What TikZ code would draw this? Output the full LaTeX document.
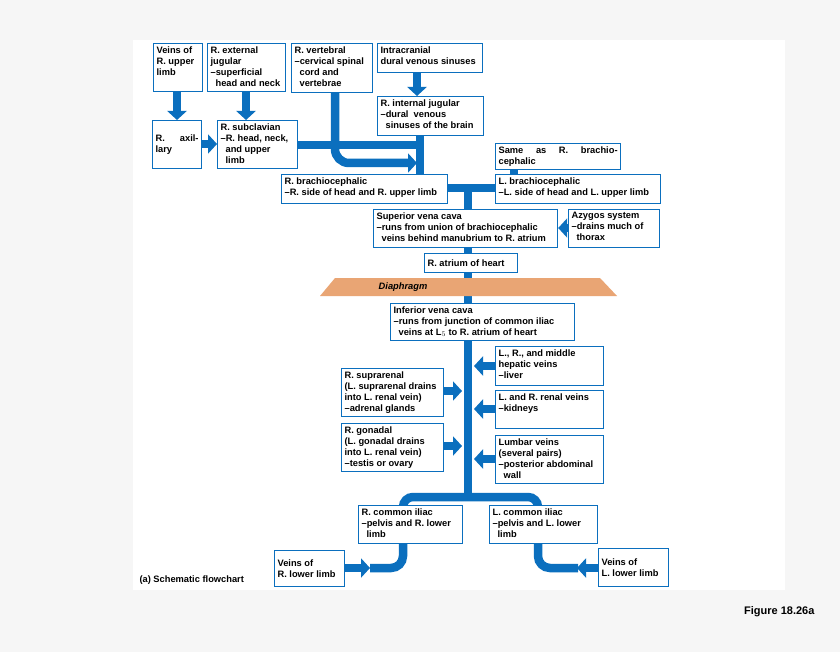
\documentclass[tikz,border=0pt]{standalone}
\usepackage{fontspec}
\setmainfont{Liberation Sans}
\usetikzlibrary{positioning,calc,arrows.meta,backgrounds}
\definecolor{veinblue}{HTML}{0B6FBE}
\definecolor{diaph}{HTML}{E9A574}
\tikzset{
  box/.style={draw=veinblue, line width=1.2pt, fill=white, anchor=north west, align=left,
    inner xsep=3pt, inner ysep=2pt, font=\bfseries\fontsize{9.3}{11}\selectfont},
  vein/.style={draw=veinblue, line width=8.5pt},
  flow/.style={vein, -{Triangle[width=19pt,length=9pt]}}
}
\newcommand{\ind}{\hspace*{5pt}}
\begin{document}
\begin{tikzpicture}[x=1pt,y=-1pt]
        \node (upper) [box, minimum width=49pt, minimum height=48pt] at (153,43) {\parbox[t][42pt]{43pt}{Veins of\\R. upper\\limb}};
        \node (extjug) [box, minimum width=78pt, minimum height=48pt] at (207,43) {\parbox[t][42pt]{72pt}{R. external\\jugular\\–superficial\\\ind head and neck}};
        \node (vert) [box, minimum width=81pt, minimum height=49pt] at (291,43) {\parbox[t][43pt]{75pt}{R. vertebral\\–cervical spinal\\\ind cord and\\\ind vertebrae}};
        \node (intracr) [box, minimum width=105pt, minimum height=29pt] at (377,43) {\parbox[t][23pt]{99pt}{Intracranial\\dural venous sinuses}};
        \node (intjug) [box, minimum width=106pt, minimum height=39pt] at (377,96) {\parbox[t][33pt]{100pt}{R. internal jugular\\–dural\ \ venous\\\ind sinuses of the brain}};
        \node (axil) [box, minimum width=49pt, minimum height=48pt] at (152,120) {\parbox[c][42pt]{43pt}{R. axillary}};
        \node (subcl) [box, minimum width=80pt, minimum height=48pt] at (217,120) {\parbox[t][42pt]{74pt}{R. subclavian\\–R. head, neck,\\\ind and upper\\\ind limb}};
        \node (same) [box, minimum width=125pt, minimum height=26pt] at (495,143) {\parbox[c][20pt]{119pt}{Same as R. brachiocephalic}};
        \node (brR) [box, minimum width=166pt, minimum height=29pt] at (281,174) {\parbox[t][23pt]{160pt}{R. brachiocephalic\\–R. side of head and R. upper limb}};
        \node (brL) [box, minimum width=165pt, minimum height=29pt] at (495,174) {\parbox[t][23pt]{159pt}{L. brachiocephalic\\–L. side of head and L. upper limb}};
        \node (svc) [box, minimum width=184pt, minimum height=38pt] at (373,209) {\parbox[t][32pt]{178pt}{Superior vena cava\\–runs from union of brachiocephalic\\\ind veins behind manubrium to R. atrium}};
        \node (azyg) [box, minimum width=91pt, minimum height=38pt] at (568,209) {\parbox[t][32pt]{85pt}{Azygos system\\–drains much of\\\ind thorax}};
        \node (atrium) [box, minimum width=93pt, minimum height=19pt] at (424,253) {\parbox[c][13pt]{87pt}{R. atrium of heart}};

        \node (ivc) [box, minimum width=184pt, minimum height=37pt] at (390,303) {\parbox[t][31pt]{178pt}{Inferior vena cava\\–runs from junction of common iliac\\\ind veins at L$_5$ to R. atrium of heart}};
        \node (hepat) [box, minimum width=108pt, minimum height=39pt] at (495,346) {\parbox[t][33pt]{102pt}{L., R., and middle\\hepatic veins\\–liver}};
        \node (supra) [box, minimum width=102pt, minimum height=48pt] at (341,368) {\parbox[t][42pt]{96pt}{R. suprarenal\\(L. suprarenal drains\\into L. renal vein)\\–adrenal glands}};
        \node (renal) [box, minimum width=108pt, minimum height=38pt] at (495,390) {\parbox[t][32pt]{102pt}{L. and R. renal veins\\–kidneys}};
        \node (gonad) [box, minimum width=102pt, minimum height=48pt] at (341,423) {\parbox[t][42pt]{96pt}{R. gonadal\\(L. gonadal drains\\into L. renal vein)\\–testis or ovary}};
        \node (lumbar) [box, minimum width=108pt, minimum height=48pt] at (495,435) {\parbox[t][42pt]{102pt}{Lumbar veins\\(several pairs)\\–posterior abdominal\\\ind wall}};
        \node (iliacR) [box, minimum width=104pt, minimum height=38pt] at (358,505) {\parbox[t][32pt]{98pt}{R. common iliac\\–pelvis and R. lower\\\ind limb}};
        \node (iliacL) [box, minimum width=108pt, minimum height=38pt] at (489,505) {\parbox[t][32pt]{102pt}{L. common iliac\\–pelvis and L. lower\\\ind limb}};
        \node (lowerR) [box, minimum width=70pt, minimum height=36pt] at (274,550) {\parbox[c][30pt]{64pt}{Veins of\\R. lower limb}};
        \node (lowerL) [box, minimum width=70pt, minimum height=38pt] at (598,548) {\parbox[c][32pt]{64pt}{Veins of\\L. lower limb}};

        \node (caption) [anchor=west, font=\bfseries\fontsize{9.3}{9}\selectfont] at (136,580) {(a) Schematic flowchart};
        \node (figlabel) [anchor=east, font=\bfseries\fontsize{11}{12}\selectfont] at (818,612) {Figure 18.26a};

        \begin{scope}[on background layer]
            \fill[gray!7] (0,0) rectangle (840,652);
            \fill[white] (133,40) rectangle (785,590);
            % veins
            \draw[vein] (intjug.south -| 420,0) -- (420,190);
            \draw[vein] (subcl.east |- 0,145) -- (420,145);
            \draw[flow, rounded corners=14pt] (vert.south -| 335,0) -- (335,163) -- (417,163);
            \draw[vein] (brR.east |- 0,188) -- (brL.west |- 0,188);
            \draw[vein] (same.south -| 514,0) -- (brL.north -| 514,0);
            \draw[vein] (468,186) -- (468,498);
            \draw[vein, rounded corners=10pt] (iliacR.north -| 403,0) -- (403,497) -- (538,497) -- (iliacL.north -| 538,0);
            \draw[vein, rounded corners=12pt] (iliacR.south -| 403,0) -- (403,568) -- (370,568);
            \draw[vein, rounded corners=12pt] (iliacL.south -| 538,0) -- (538,568) -- (578,568);
            % diaphragm
            \fill[diaph] (335,278) -- (600,278) -- (617,296) -- (320,296) -- cycle;
        \end{scope}
        \node (diaphr) [font=\bfseries\itshape\fontsize{9.3}{9}\selectfont] at (403,287) {Diaphragm};

        \draw[flow] (upper.south -| 177,0) -- (axil.north -| 177,0);
        \draw[flow] (extjug.south -| 246,0) -- (subcl.north -| 246,0);
        \draw[flow] (intracr.south -| 417,0) -- (intjug.north -| 417,0);
        \draw[flow] (axil.east |- 0,144) -- (subcl.west |- 0,144);
        \draw[flow] (azyg.west |- 0,228) -- (svc.east |- 0,228);
        \draw[flow] (hepat.west |- 0,366) -- (474,366);
        \draw[flow] (supra.east |- 0,391) -- (462,391);
        \draw[flow] (renal.west |- 0,409) -- (474,409);
        \draw[flow] (gonad.east |- 0,446) -- (462,446);
        \draw[flow] (lumbar.west |- 0,459) -- (474,459);
        \draw[flow] (lowerR.east |- 0,568) -- (370,568);
        \draw[flow] (lowerL.west |- 0,568) -- (577,568);
\end{tikzpicture}
\end{document}
